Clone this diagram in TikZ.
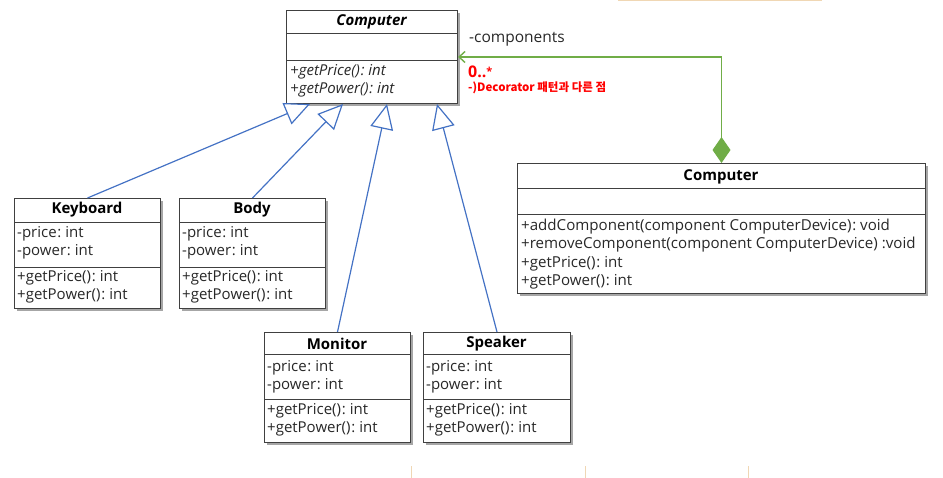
\documentclass[tikz,border=0pt]{standalone}
\usepackage{fontspec}
\setmainfont{Open Sans}
\newfontfamily\krfont{Noto Sans CJK KR}
\usetikzlibrary{arrows.meta,shadows}
\definecolor{umlblue}{RGB}{68,114,196}
\definecolor{umlgreen}{RGB}{112,173,71}
\definecolor{boxline}{RGB}{64,64,64}
\definecolor{txtgray}{RGB}{40,40,40}
\definecolor{faint}{RGB}{240,215,180}
\newcommand\cln{\kern0.8pt:\ }
\tikzset{
  cls/.style={draw=boxline, line width=1pt, fill=white, inner sep=0pt, anchor=north west,
    drop shadow={shadow xshift=2.5pt, shadow yshift=-2.5pt, opacity=0.35, fill=black}},
  divider/.style={draw=boxline, line width=0.8pt},
  ttl/.style={inner sep=0pt, font=\fontsize{15}{18}\selectfont\bfseries, text=black},
  itttl/.style={inner sep=0pt, font=\fontsize{15}{18}\selectfont\bfseries\itshape, text=black},
  txt/.style={inner sep=0pt, anchor=west, align=left, font=\fontsize{15}{18}\selectfont, text=txtgray},
  ittxt/.style={txt, font=\fontsize{15}{18}\selectfont\itshape},
  widetxt/.style={txt, font=\fontsize{15.1}{18.5}\selectfont},
  inherit/.style={draw=umlblue, line width=1.2pt, -{Triangle[open, length=25pt, width=23pt, fill=white]}},
  compose/.style={draw=umlgreen, line width=1.4pt, {Diamond[length=26pt, width=18pt, fill=umlgreen]}-{Straight Barb[length=6pt, width=11pt]}},
}
\begin{document}
\begin{tikzpicture}[x=1pt, y=-1pt]
\useasboundingbox (0,0) rectangle (943,478);
% faint artefacts
\draw[faint, line width=1pt] (618,1) -- (822,1);
\draw[faint, line width=0.8pt] (411,466) -- (411,478);
\draw[faint, line width=0.8pt] (585,466) -- (585,478);
\draw[faint, line width=0.8pt] (748,466) -- (748,478);

% top abstract Computer
\node[cls, minimum width=171pt, minimum height=93pt] (top) at (286,10) {};
\draw[divider] (286,33) -- (457,33);
\draw[divider] (286,60) -- (457,60);
\node[itttl] (topT) at (371.5,22) {Computer};
\node[ittxt] (topM) at (290,81) {+getPrice()\cln int\\+getPower()\cln int};

% right Computer
\node[cls, minimum width=408pt, minimum height=130pt] (rc) at (517,163) {};
\draw[divider] (517,188) -- (925,188);
\draw[divider] (517,214) -- (925,214);
\node[ttl] (rcT) at (721,177) {Computer};
\node[widetxt] (rcM) at (521,254) {+addComponent(component ComputerDevice)\cln void\\+removeComponent(component ComputerDevice)\kern4pt:void\\+getPrice()\cln int\\+getPower()\cln int};

% Keyboard
\node[cls, minimum width=146pt, minimum height=110pt] (kb) at (14,198) {};
\draw[divider] (14,222) -- (160,222);
\draw[divider] (14,267) -- (160,267);
\node[ttl] (kbT) at (87,210) {Keyboard};
\node[txt] (kbA) at (17,243) {-price\cln int\\-power\cln int};
\node[txt] (kbM) at (17,287) {+getPrice()\cln int\\+getPower()\cln int};

% Body
\node[cls, minimum width=146pt, minimum height=110pt] (bd) at (179,198) {};
\draw[divider] (179,222) -- (325,222);
\draw[divider] (179,267) -- (325,267);
\node[ttl] (bdT) at (252,210) {Body};
\node[txt] (bdA) at (182,243) {-price\cln int\\-power\cln int};
\node[txt] (bdM) at (182,287) {+getPrice()\cln int\\+getPower()\cln int};

% Monitor
\node[cls, minimum width=146pt, minimum height=110pt] (mn) at (264,332) {};
\draw[divider] (264,354) -- (410,354);
\draw[divider] (264,399) -- (410,399);
\node[ttl] (mnT) at (337,344) {Monitor};
\node[txt] (mnA) at (267,377) {-price\cln int\\-power\cln int};
\node[txt] (mnM) at (267,420) {+getPrice()\cln int\\+getPower()\cln int};

% Speaker
\node[cls, minimum width=147pt, minimum height=110pt] (sp) at (423,332) {};
\draw[divider] (423,354) -- (570,354);
\draw[divider] (423,399) -- (570,399);
\node[ttl] (spT) at (496.5,344) {Speaker};
\node[txt] (spA) at (426,377) {-price\cln int\\-power\cln int};
\node[txt] (spM) at (426,420) {+getPrice()\cln int\\+getPower()\cln int};

% inheritance targets on the bottom of the top class
\coordinate (t1) at (310,104);
\coordinate (t2) at (343,104);
\coordinate (t3) at (387,104);
\coordinate (t4) at (437,104);
\draw[inherit] (kb.north) -- (t1);
\draw[inherit] (bd.north) -- (t2);
\draw[inherit] (mn.north) -- (t3);
\draw[inherit] (sp.north) -- (t4);

% composition
\draw[compose] (rc.north) |- (top.east);
\node[anchor=west, inner sep=0pt, font=\fontsize{15.5}{18}\selectfont, text=txtgray] (lblc) at (469,39) {-components};
\node[anchor=west, inner sep=0pt, font=\fontsize{16}{18}\selectfont\bfseries, text=red] (lblm) at (468,72) {0..\raisebox{2pt}{\fontsize{11}{11}\selectfont *}};
\node[anchor=west, inner sep=0pt, font=\krfont\fontsize{11.5}{13}\selectfont\bfseries, text=red] (lbln) at (468,88) {-)Decorator 패턴과 다른 점};
\end{tikzpicture}
\end{document}
